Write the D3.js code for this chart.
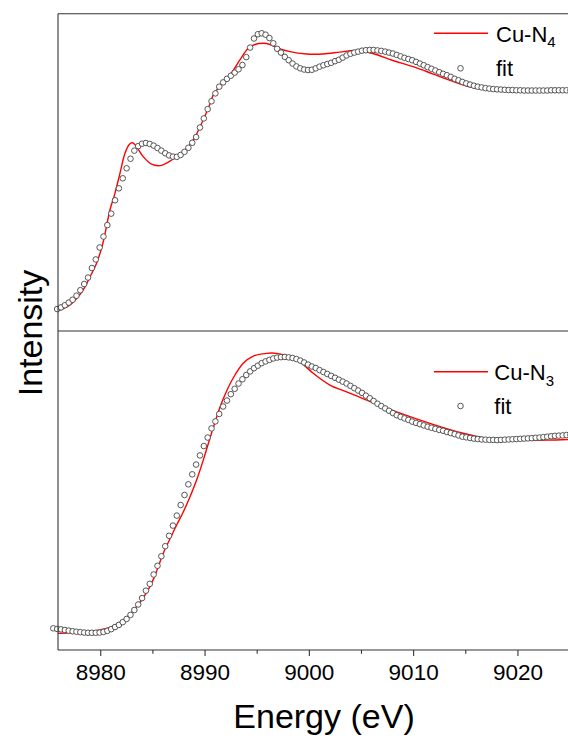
<!DOCTYPE html>
<html>
<head>
<meta charset="utf-8">
<script src="https://cdn.jsdelivr.net/npm/d3@7"></script>
<style>
  html, body { margin: 0; padding: 0; background: #fff; }
  svg { display: block; }
  text { font-family: "Liberation Sans", Arial, "DejaVu Sans", sans-serif; fill: #000; }
</style>
</head>
<body>
<svg id="chart" width="568" height="738"></svg>
<script>
// Photon energy grid (eV) shared by both fitted spectra
const energy = [
  8975.50, 8975.87, 8976.24, 8976.61, 8976.98, 8977.35, 8977.72, 8978.09, 8978.46, 8978.83,
  8979.20, 8979.57, 8979.94, 8980.31, 8980.68, 8981.05, 8981.42, 8981.79, 8982.16, 8982.53,
  8982.90, 8983.27, 8983.64, 8984.01, 8984.38, 8984.75, 8985.12, 8985.49, 8985.86, 8986.23,
  8986.60, 8986.97, 8987.34, 8987.71, 8988.08, 8988.45, 8988.82, 8989.19, 8989.56, 8989.93,
  8990.30, 8990.67, 8991.04, 8991.41, 8991.78, 8992.15, 8992.52, 8992.89, 8993.26, 8993.63,
  8994.00, 8994.37, 8994.74, 8995.11, 8995.48, 8995.85, 8996.22, 8996.59, 8996.96, 8997.33,
  8997.70, 8998.07, 8998.44, 8998.81, 8999.18, 8999.55, 8999.92, 9000.29, 9000.66, 9001.03,
  9001.40, 9001.77, 9002.14, 9002.51, 9002.88, 9003.25, 9003.62, 9003.99, 9004.36, 9004.73,
  9005.10, 9005.47, 9005.84, 9006.21, 9006.58, 9006.95, 9007.32, 9007.69, 9008.06, 9008.43,
  9008.80, 9009.17, 9009.54, 9009.91, 9010.28, 9010.65, 9011.02, 9011.39, 9011.76, 9012.13,
  9012.50, 9012.87, 9013.24, 9013.61, 9013.98, 9014.35, 9014.72, 9015.09, 9015.46, 9015.83,
  9016.20, 9016.57, 9016.94, 9017.31, 9017.68, 9018.05, 9018.42, 9018.79, 9019.16, 9019.53,
  9019.90, 9020.27, 9020.64, 9021.01, 9021.38, 9021.75, 9022.12, 9022.49, 9022.86, 9023.23,
  9023.60, 9023.97, 9024.34, 9024.71, 9025.08
];

// Fitted normalized absorption, upper panel (first grid point not sampled)
const cuN4Fit = [
  null,  0.092, 0.099, 0.108, 0.119, 0.131, 0.148, 0.171, 0.197, 0.224,
  0.264, 0.300, 0.350, 0.396, 0.444, 0.492, 0.548, 0.598, 0.640, 0.682,
  0.722, 0.756, 0.775, 0.785, 0.788, 0.784, 0.777, 0.767, 0.756, 0.745,
  0.736, 0.731, 0.730, 0.738, 0.751, 0.768, 0.789, 0.813, 0.853, 0.891,
  0.930, 0.963, 0.996, 1.024, 1.042, 1.057, 1.070, 1.083, 1.097, 1.115,
  1.148, 1.188, 1.226, 1.244, 1.248, 1.242, 1.228, 1.206, 1.183, 1.167,
  1.149, 1.135, 1.121, 1.109, 1.101, 1.096, 1.094, 1.095, 1.101, 1.108,
  1.114, 1.119, 1.124, 1.131, 1.137, 1.146, 1.155, 1.162, 1.167, 1.171,
  1.175, 1.177, 1.178, 1.178, 1.176, 1.174, 1.171, 1.167, 1.163, 1.157,
  1.151, 1.145, 1.140, 1.135, 1.128, 1.121, 1.114, 1.106, 1.099, 1.092,
  1.085, 1.078, 1.072, 1.065, 1.057, 1.051, 1.044, 1.038, 1.033, 1.028,
  1.024, 1.021, 1.018, 1.016, 1.014, 1.013, 1.012, 1.011, 1.010, 1.010,
  1.009, 1.009, 1.008, 1.008, 1.008, 1.008, 1.008, 1.008, 1.008, 1.009,
  1.009, 1.009, 1.009, 1.009, 1.009
];

// Fitted normalized absorption, lower panel
const cuN3Fit = [
  0.102, 0.099, 0.097, 0.094, 0.091, 0.088, 0.086, 0.084, 0.082, 0.081,
  0.081, 0.081, 0.082, 0.085, 0.090, 0.098, 0.108, 0.118, 0.131, 0.146,
  0.165, 0.188, 0.214, 0.244, 0.279, 0.311, 0.355, 0.396, 0.441, 0.488,
  0.537, 0.585, 0.632, 0.682, 0.729, 0.779, 0.826, 0.872, 0.915, 0.959,
  0.999, 1.042, 1.075, 1.110, 1.145, 1.173, 1.203, 1.228, 1.253, 1.273,
  1.293, 1.310, 1.325, 1.337, 1.349, 1.357, 1.364, 1.371, 1.375, 1.377,
  1.378, 1.376, 1.373, 1.368, 1.361, 1.352, 1.342, 1.333, 1.326, 1.316,
  1.307, 1.298, 1.289, 1.280, 1.271, 1.262, 1.253, 1.242, 1.231, 1.220,
  1.209, 1.196, 1.184, 1.171, 1.158, 1.147, 1.136, 1.125, 1.114, 1.104,
  1.096, 1.089, 1.082, 1.074, 1.068, 1.062, 1.056, 1.050, 1.045, 1.040,
  1.035, 1.031, 1.025, 1.020, 1.015, 1.009, 1.003, 1.000, 0.997, 0.994,
  0.992, 0.990, 0.989, 0.988, 0.988, 0.987, 0.988, 0.989, 0.990, 0.991,
  0.992, 0.993, 0.994, 0.995, 0.996, 0.998, 0.999, 1.001, 1.003, 1.005,
  1.007, 1.008, 1.009, 1.011, 1.012
];

// Calculated Cu-N4 spectrum
const cuN4Energy = [
  8975.95, 8977.09, 8978.05, 8978.53, 8979.01, 8979.65, 8980.26, 8980.93, 8981.41, 8981.89,
  8982.37, 8982.78, 8983.11, 8983.49, 8984.12, 8984.93, 8985.72, 8986.68, 8987.64, 8988.44,
  8989.08, 8989.56, 8990.04, 8990.52, 8990.83, 8991.48, 8992.12, 8992.72, 8993.39, 8994.19,
  8994.83, 8995.63, 8996.27, 8996.91, 8998.19, 8999.79, 9001.35, 9002.98, 9004.42, 9006.15,
  9008.06, 9010.01, 9011.93, 9013.21, 9015.13, 9017.05, 9019.28, 9022.16, 9025.51
];
const cuN4Values = [
  0.084, 0.109, 0.153, 0.184, 0.226, 0.284, 0.369, 0.507, 0.577, 0.661,
  0.745, 0.782, 0.789, 0.772, 0.731, 0.699, 0.693, 0.712, 0.742, 0.772,
  0.813, 0.855, 0.901, 0.951, 0.989, 1.027, 1.056, 1.090, 1.136, 1.185,
  1.201, 1.206, 1.201, 1.188, 1.171, 1.161, 1.161, 1.169, 1.176, 1.163,
  1.134, 1.108, 1.077, 1.056, 1.027, 1.014, 1.010, 1.010, 1.010
];

// Calculated Cu-N3 spectrum
const cuN3Energy = [
  8975.95, 8977.57, 8979.01, 8979.97, 8980.93, 8981.57, 8982.37, 8983.16, 8983.97, 8984.77,
  8985.41, 8986.04, 8986.68, 8987.33, 8987.96, 8988.60, 8989.24, 8989.88, 8990.35, 8990.83,
  8991.48, 8992.12, 8992.75, 8993.71, 8994.67, 8995.95, 8996.91, 8998.19, 8999.15, 9000.42,
  9002.02, 9003.62, 9005.54, 9008.42, 9011.61, 9014.80, 9017.05, 9019.60, 9022.80, 9025.51
];
const cuN3Values = [
  0.078, 0.082, 0.087, 0.094, 0.106, 0.122, 0.146, 0.185, 0.235, 0.298,
  0.371, 0.455, 0.522, 0.588, 0.649, 0.719, 0.799, 0.893, 0.969, 1.044,
  1.142, 1.218, 1.279, 1.348, 1.382, 1.395, 1.395, 1.379, 1.355, 1.301,
  1.246, 1.214, 1.175, 1.120, 1.066, 1.019, 0.995, 0.987, 0.987, 0.991
];

const majorTicks = [8980, 8990, 9000, 9010, 9020];
const minorTicks = [8985, 8995, 9005, 9015, 9025];

const svg = d3.select("#chart");

const plotLeft = 58, plotRight = 574.8;
const topPanel = { top: 13.7, bottom: 331 };
const botPanel = { top: 331, bottom: 650 };

const x = d3.scaleLinear().domain([8975.95, 9025.5]).range([plotLeft, plotRight]);
const yTop = d3.scaleLinear().domain([0, 1.33]).range([topPanel.bottom, topPanel.top]);
const yBot = d3.scaleLinear().domain([0, 1.5]).range([botPanel.bottom, botPanel.top]);

const RED = "#ff0000";
const MARK_STROKE = "#444";
const MARK_R = 2.8;

function drawPanel(yScale, calcE, calcV, fitV) {
  const g = svg.append("g");
  const lineData = calcE.map((e, i) => [e, calcV[i]]);
  g.append("path")
    .datum(lineData)
    .attr("fill", "none")
    .attr("stroke", RED)
    .attr("stroke-width", 1.4)
    .attr("d", d3.line()
      .x(d => x(d[0]))
      .y(d => yScale(d[1]))
      .curve(d3.curveCatmullRom.alpha(0.5)));

  const pts = energy.map((e, i) => [e, fitV[i]]).filter(d => d[1] != null);
  g.selectAll("circle")
    .data(pts)
    .join("circle")
    .attr("cx", d => x(d[0]))
    .attr("cy", d => yScale(d[1]))
    .attr("r", MARK_R)
    .attr("fill", "#fff")
    .attr("stroke", MARK_STROKE)
    .attr("stroke-width", 0.9);
}

drawPanel(yTop, cuN4Energy, cuN4Values, cuN4Fit);
drawPanel(yBot, cuN3Energy, cuN3Values, cuN3Fit);

// Frame: left spine and horizontal panel borders
const frame = svg.append("g").attr("stroke", "#333").attr("stroke-width", 1.1);
frame.append("line").attr("x1", plotLeft).attr("x2", plotLeft)
  .attr("y1", topPanel.top).attr("y2", botPanel.bottom);
[topPanel.top, topPanel.bottom, botPanel.bottom].forEach(yy => {
  frame.append("line").attr("x1", plotLeft).attr("x2", plotRight + 5)
    .attr("y1", yy).attr("y2", yy);
});

// Bottom energy axis
const axisG = svg.append("g").attr("transform", `translate(0,${botPanel.bottom})`);
axisG.call(d3.axisBottom(x).tickValues(majorTicks).tickSize(6).tickPadding(8)
  .tickFormat(d3.format("d")));
axisG.select(".domain").remove();
axisG.selectAll(".tick line").attr("stroke", "#333").attr("stroke-width", 1.1);
axisG.selectAll(".tick text")
  .style("font-family", '"Liberation Sans", Arial, sans-serif')
  .style("font-size", "22.5px").attr("fill", "#000");

const minorG = svg.append("g").attr("transform", `translate(0,${botPanel.bottom})`);
minorG.call(d3.axisBottom(x).tickValues(minorTicks).tickSize(3.8).tickFormat(""));
minorG.select(".domain").remove();
minorG.selectAll(".tick line").attr("stroke", "#333").attr("stroke-width", 1.1);

// Axis titles
svg.append("text")
  .attr("x", 324).attr("y", 728)
  .attr("text-anchor", "middle")
  .style("font-size", "34px")
  .text("Energy (eV)");

svg.append("text")
  .attr("transform", "translate(41.5,333) rotate(-90)")
  .attr("text-anchor", "middle")
  .style("font-size", "34px")
  .text("Intensity");

// Legends
function legend(lineY, textX, label, sub, fitY) {
  const g = svg.append("g");
  g.append("line").attr("x1", 434).attr("x2", 488)
    .attr("y1", lineY).attr("y2", lineY)
    .attr("stroke", RED).attr("stroke-width", 1.5);
  const t = g.append("text").attr("x", textX).attr("y", lineY + 8.4)
    .style("font-size", "22px");
  t.append("tspan").text(label);
  t.append("tspan").attr("dy", 5.5).style("font-size", "15px").text(sub);
  g.append("circle").attr("cx", 460.5).attr("cy", fitY).attr("r", MARK_R)
    .attr("fill", "#fff").attr("stroke", MARK_STROKE).attr("stroke-width", 0.9);
  g.append("text").attr("x", textX).attr("y", fitY + 8)
    .style("font-size", "22px").text("fit");
}
legend(33.3, 496, "Cu-N", "4", 68.3);
legend(371.7, 494.3, "Cu-N", "3", 406);
</script>
</body>
</html>
